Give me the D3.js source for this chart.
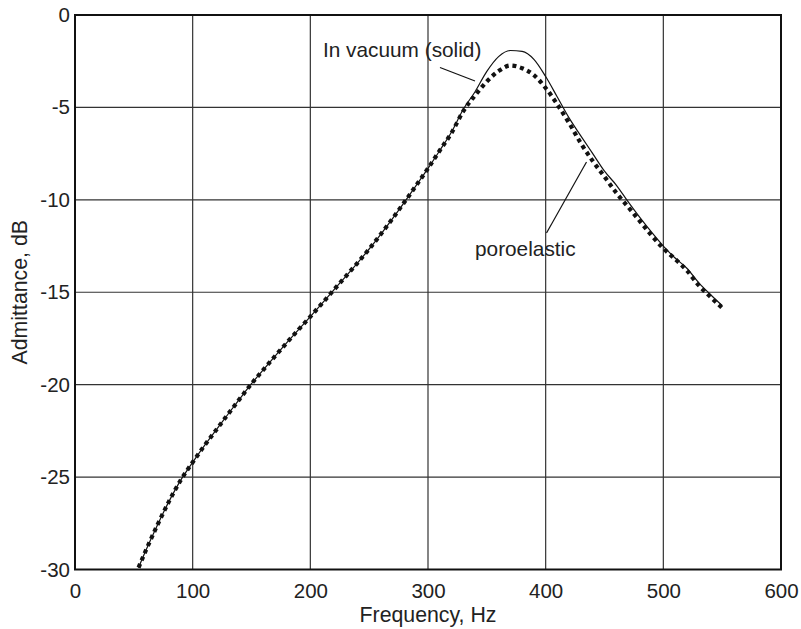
<!DOCTYPE html>
<html>
<head>
<meta charset="utf-8">
<script src="https://cdn.jsdelivr.net/npm/d3@7/dist/d3.min.js"></script>
<style>
  html, body { margin: 0; padding: 0; background: #fff; }
  svg { display: block; }
  text { font-family: "Liberation Sans", Arial, sans-serif; fill: #222; }
</style>
</head>
<body>
<svg id="chart" width="801" height="629"></svg>
<script>
// ---- data ----
const frequency = [54, 60, 70, 80, 90, 100, 110, 120, 130, 140, 150, 160, 170, 180, 190, 200,
  210, 220, 230, 240, 250, 260, 270, 280, 290, 300, 310, 320, 330, 340, 350, 360, 370, 380,
  390, 400, 410, 420, 430, 440, 450, 460, 470, 480, 490, 500, 510, 520, 530, 540, 550];

const vacuumSolid = [-29.9, -29.0, -27.6, -26.3, -25.15, -24.2, -23.3, -22.45, -21.6, -20.77,
  -19.95, -19.2, -18.46, -17.73, -17.02, -16.32, -15.6, -14.87, -14.15, -13.42, -12.66, -11.85,
  -11.0, -10.12, -9.22, -8.3, -7.33, -6.33, -5.1, -4.15, -3.05, -2.25, -1.92, -1.97, -2.4, -3.33,
  -4.45, -5.58, -6.55, -7.5, -8.45, -9.2, -10.1, -10.95, -11.75, -12.5, -13.15, -13.7, -14.48,
  -15.12, -15.72];

const poroelastic = [-29.9, -29.0, -27.6, -26.3, -25.15, -24.2, -23.3, -22.45, -21.6, -20.77,
  -19.95, -19.2, -18.46, -17.73, -17.02, -16.32, -15.6, -14.87, -14.15, -13.42, -12.66, -11.85,
  -11.0, -10.12, -9.22, -8.3, -7.33, -6.38, -5.2, -4.35, -3.6, -3.03, -2.73, -2.88, -3.25, -3.95,
  -4.85, -5.85, -6.95, -7.9, -8.75, -9.62, -10.38, -11.15, -11.93, -12.63, -13.2, -13.82, -14.62,
  -15.25, -15.85];

const xTicks = [0, 100, 200, 300, 400, 500, 600];
const yTicks = [0, -5, -10, -15, -20, -25, -30];
const xLabel = "Frequency, Hz";
const yLabel = "Admittance, dB";
const solidNote = "In vacuum (solid)";
const poroNote = "poroelastic";

// ---- layout ----
const svg = d3.select("#chart");
const mLeft = 75, mRight = 781, mTop = 15, mBottom = 569.5;
const x = d3.scaleLinear().domain([0, 600]).range([mLeft, mRight]);
const y = d3.scaleLinear().domain([-30, 0]).range([mBottom, mTop]);

// grid
const grid = svg.append("g");
grid.selectAll("line.vx").data(xTicks).join("line")
  .attr("x1", d => x(d)).attr("x2", d => x(d))
  .attr("y1", mTop).attr("y2", mBottom)
  .attr("stroke", "#333").attr("stroke-width", 1.2);
grid.selectAll("line.hy").data(yTicks).join("line")
  .attr("x1", mLeft).attr("x2", mRight)
  .attr("y1", d => y(d)).attr("y2", d => y(d))
  .attr("stroke", "#333").attr("stroke-width", 1.2);

// axes
const fmt = d => String(d);
const xAxis = d3.axisBottom(x).tickValues(xTicks).tickSize(0).tickPadding(14).tickFormat(fmt);
const gx = svg.append("g").attr("transform", `translate(0,${mBottom})`).call(xAxis);
gx.select(".domain").remove();
gx.selectAll("text").attr("font-size", 20.5).attr("fill", "#222")
  .attr("font-family", "Liberation Sans, Arial, sans-serif");

const yAxis = d3.axisLeft(y).tickValues(yTicks).tickSize(0).tickPadding(5).tickFormat(fmt);
const gy = svg.append("g").attr("transform", `translate(${mLeft},0)`).call(yAxis);
gy.select(".domain").remove();
gy.selectAll("text").attr("font-size", 20.5).attr("fill", "#222")
  .attr("font-family", "Liberation Sans, Arial, sans-serif");

// frame
svg.append("rect").attr("x", mLeft).attr("y", mTop)
  .attr("width", mRight - mLeft).attr("height", mBottom - mTop)
  .attr("fill", "none").attr("stroke", "#111").attr("stroke-width", 2);

// lines
const line = vals => d3.line()
  .x((d, i) => x(frequency[i]))
  .y(d => y(d))
  .curve(d3.curveMonotoneX)(vals);

svg.append("path").attr("d", line(vacuumSolid))
  .attr("fill", "none").attr("stroke", "#111").attr("stroke-width", 1.2);
svg.append("path").attr("d", line(poroelastic))
  .attr("fill", "none").attr("stroke", "#111").attr("stroke-width", 4.2)
  .attr("stroke-dasharray", "4,3.8");

// annotations
svg.append("text").attr("x", 323).attr("y", 57).attr("font-size", 20.8).text(solidNote);
svg.append("line").attr("x1", 440).attr("y1", 67.5).attr("x2", 475).attr("y2", 81)
  .attr("stroke", "#111").attr("stroke-width", 1.2);
svg.append("text").attr("x", 475).attr("y", 256).attr("font-size", 20.8).text(poroNote);
svg.append("line").attr("x1", 546.5).attr("y1", 233).attr("x2", 586.5).attr("y2", 162)
  .attr("stroke", "#111").attr("stroke-width", 1.2);

// axis labels
svg.append("text").attr("x", (mLeft + mRight) / 2).attr("y", 622)
  .attr("text-anchor", "middle").attr("font-size", 21.3).text(xLabel);
svg.append("text").attr("transform", `translate(27,${(mTop + mBottom) / 2}) rotate(-90)`)
  .attr("text-anchor", "middle").attr("font-size", 21.3).text(yLabel);
</script>
</body>
</html>
